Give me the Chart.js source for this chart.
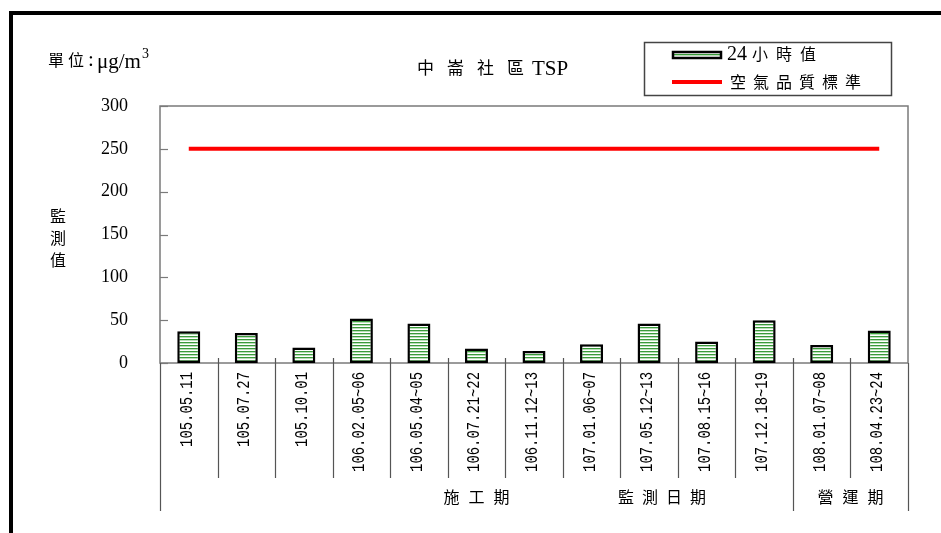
<!DOCTYPE html>
<html>
<head>
<meta charset="utf-8">
<script src="https://cdn.jsdelivr.net/npm/chart.js@4/dist/chart.umd.min.js"></script>
<style>
    html, body { margin: 0; padding: 0; background: #fff; }
    canvas { display: block; }
</style>
</head>
<body>
<canvas id="tsp-chart" width="941" height="533"></canvas>
<script>
// Chart data
const sampleDates = ['105.05.11', '105.07.27', '105.10.01', '106.02.05~06', '106.05.04~05', '106.07.21~22',
    '106.11.12~13', '107.01.06~07', '107.05.12~13', '107.08.15~16', '107.12.18~19', '108.01.07~08', '108.04.23~24'];
const tsp24h = [37, 35, 18, 52, 46, 17, 14, 22, 46, 25, 50, 21, 38];
const airStandard = [250, 250, 250, 250, 250, 250, 250, 250, 250, 250, 250, 250, 250];
const yTicks = [0, 50, 100, 150, 200, 250, 300];
const periodNames = ['施工期', '營運期'];
const periodSizes = [11, 2];

const chartTitle = '中崙社區';
const chartTitleLatin = 'TSP';
const xAxisTitle = '監測日期';
const yAxisTitle = '監測值';
const seriesNames = ['24小時值', '空氣品質標準'];

const CJK = "'Noto Sans CJK TC'";
const SERIF = "'Liberation Serif'";

/**
 * Striped fill used for the bars and their legend box
 */
const makeStripes = () => {
    const c = document.createElement('canvas');
    c.width = 4;
    c.height = 3;
    const g = c.getContext('2d');
    g.fillStyle = '#ffffff';
    g.fillRect(0, 0, 4, 3);
    g.fillStyle = '#3a9a3a';
    g.fillRect(0, 0, 4, 1);
    g.fillStyle = '#b9dfb9';
    g.fillRect(0, 1, 4, 1);
    return g.createPattern(c, 'repeat');
};

// draw CJK text char by char with a fixed pitch
const drawSpaced = (ctx, text, x, y, pitch) => {
    [...text].forEach((ch, i) => ctx.fillText(ch, x + i * pitch, y));
};

const spacedWidth = (ctx, text, pitch) => {
    const chars = [...text];
    return (chars.length - 1) * pitch + ctx.measureText(chars[chars.length - 1]).width;
};

const line = (ctx, x1, y1, x2, y2) => {
    ctx.beginPath();
    ctx.moveTo(x1, y1);
    ctx.lineTo(x2, y2);
    ctx.stroke();
};

// frame, inward ticks, category dividers
const framePlugin = {
    id: 'framePlugin',
    beforeDraw(chart) {
        const ctx = chart.ctx;
        ctx.save();
        ctx.fillStyle = '#000';
        ctx.fillRect(9, 11, 932, 4);
        ctx.fillRect(9, 11, 4, 522);
        ctx.restore();
    },
    beforeDatasetsDraw(chart) {
        const { ctx, chartArea: a, scales: { x, y } } = chart;
        ctx.save();
        ctx.strokeStyle = '#7a7a7a';
        ctx.lineWidth = 1.5;
        ctx.strokeRect(a.left, a.top, a.right - a.left, a.bottom - a.top);

        ctx.lineWidth = 1.2;
        y.ticks.forEach(t => {
            const py = Math.round(y.getPixelForValue(t.value)) + 0.5;
            line(ctx, a.left, py, a.left + 8, py);
        });

        // group boundaries go lower than plain dividers
        const bounds = new Set();
        let acc = 0;
        periodSizes.forEach(n => { acc += n; bounds.add(acc); });

        ctx.strokeStyle = '#555';
        const n = chart.data.labels.length;
        for (let i = 1; i < n; i++) {
            const px = Math.round((x.getPixelForValue(i - 1) + x.getPixelForValue(i)) / 2) + 0.5;
            line(ctx, px, a.bottom - 5, px, bounds.has(i) ? 511 : 478);
        }
        line(ctx, Math.round(a.left) + 0.5, a.bottom, Math.round(a.left) + 0.5, 511);
        line(ctx, Math.round(a.right) + 0.5, a.bottom, Math.round(a.right) + 0.5, 511);
        ctx.restore();
    }
};

// titles, rotated date labels, period names, legend
const textPlugin = {
    id: 'textPlugin',
    afterDraw(chart) {
        const { ctx, chartArea: a, scales: { x } } = chart;
        ctx.save();
        ctx.fillStyle = '#000';
        ctx.textBaseline = 'middle';
        ctx.textAlign = 'left';

        // unit
        ctx.font = `16px ${CJK}`;
        drawSpaced(ctx, '單位', 48, 60, 20);
        ctx.font = `21px ${SERIF}`;
        ctx.fillText(':', 88, 60);
        ctx.fillText('μg/m', 97, 62);
        const mw = ctx.measureText('μg/m').width;
        ctx.font = `14px ${SERIF}`;
        ctx.fillText('3', 97 + mw + 1, 54);

        // title
        ctx.font = `17px ${CJK}`;
        drawSpaced(ctx, chartTitle, 417, 68, 30);
        ctx.font = `21px ${SERIF}`;
        ctx.fillText(chartTitleLatin, 417 + spacedWidth(ctx, chartTitle, 30) + 4, 69);

        // y axis title, stacked
        ctx.font = `16px ${CJK}`;
        ctx.textAlign = 'center';
        [...yAxisTitle].forEach((ch, i) => ctx.fillText(ch, 58, 216 + i * 22));

        // date labels, reading bottom to top
        ctx.font = `19px 'Liberation Mono'`;
        ctx.textAlign = 'right';
        chart.data.labels.forEach((lab, i) => {
            ctx.save();
            ctx.translate(x.getPixelForValue(i) - 2, a.bottom + 9);
            ctx.rotate(-Math.PI / 2);
            ctx.scale(0.73, 1);
            ctx.fillText(lab, 0, 0);
            ctx.restore();
        });

        // period names
        ctx.textAlign = 'left';
        ctx.font = `16px ${CJK}`;
        let start = 0;
        const step = (x.getPixelForValue(1) - x.getPixelForValue(0));
        periodNames.forEach((name, k) => {
            const left = x.getPixelForValue(start) - step / 2;
            const right = x.getPixelForValue(start + periodSizes[k] - 1) + step / 2;
            const w = spacedWidth(ctx, name, 25);
            drawSpaced(ctx, name, (left + right) / 2 - w / 2, 497, 25);
            start += periodSizes[k];
        });
        const tw = spacedWidth(ctx, xAxisTitle, 24);
        drawSpaced(ctx, xAxisTitle, 662 - tw / 2, 497, 24);

        // legend
        const bars = chart.data.datasets[0];
        const std = chart.data.datasets[1];
        ctx.strokeStyle = '#444';
        ctx.lineWidth = 1.5;
        ctx.strokeRect(644.5, 42.5, 247, 53);

        ctx.fillStyle = bars.backgroundColor;
        ctx.fillRect(673, 52, 48, 6);
        ctx.strokeStyle = bars.borderColor;
        ctx.lineWidth = 2.5;
        ctx.strokeRect(673, 52, 48, 6);

        ctx.strokeStyle = std.borderColor;
        ctx.lineWidth = 4;
        line(ctx, 672, 82, 722, 82);

        ctx.fillStyle = '#000';
        ctx.font = `20px ${SERIF}`;
        ctx.fillText('24', 727, 55);
        ctx.font = `16px ${CJK}`;
        drawSpaced(ctx, bars.label.slice(2), 752, 54, 24);
        drawSpaced(ctx, std.label, 730, 82, 23);
        ctx.restore();
    }
};

const ctx = document.getElementById('tsp-chart');

new Chart(ctx, {
    data: {
        labels: sampleDates,
        datasets: [{
            type: 'bar',
            label: seriesNames[0],
            data: tsp24h,
            backgroundColor: makeStripes(),
            borderColor: '#000',
            borderWidth: 2.5,
            borderSkipped: false,
            barPercentage: 0.4,
            categoryPercentage: 1,
            order: 1
        }, {
            type: 'line',
            label: seriesNames[1],
            data: airStandard,
            borderColor: '#ff0000',
            borderWidth: 4,
            pointRadius: 0,
            order: 0
        }]
    },
    options: {
        responsive: false,
        animation: false,
        devicePixelRatio: 1,
        layout: { padding: { top: 106, right: 33, bottom: 170, left: 0 } },
        plugins: {
            legend: { display: false },
            title: { display: false },
            tooltip: { enabled: false }
        },
        scales: {
            x: {
                ticks: { display: false },
                grid: { display: false },
                border: { display: false },
                afterFit: (scale) => { scale.height = 0; }
            },
            y: {
                min: 0,
                max: 300,
                afterBuildTicks: (scale) => { scale.ticks = yTicks.map(v => ({ value: v })); },
                afterFit: (scale) => { scale.width = 160; },
                ticks: {
                    padding: 24,
                    color: '#000',
                    font: { family: "'Liberation Serif', serif", size: 18 }
                },
                grid: { display: false },
                border: { display: false }
            }
        }
    },
    plugins: [framePlugin, textPlugin]
});
</script>
</body>
</html>
